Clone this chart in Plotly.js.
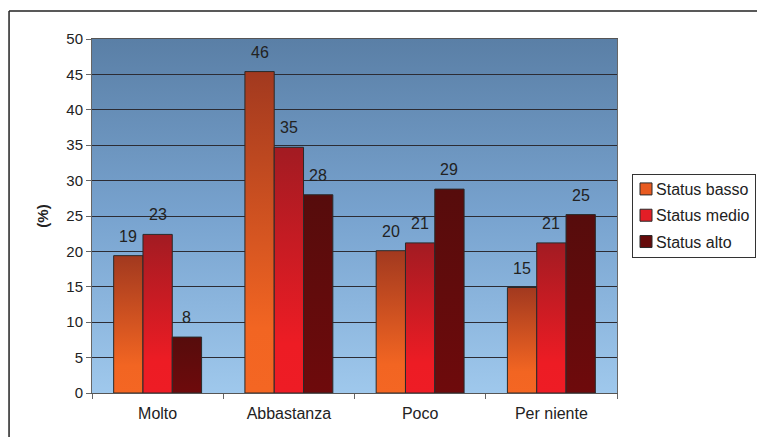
<!DOCTYPE html>
<html>
<head>
<meta charset="utf-8">
<script src="https://cdn.plot.ly/plotly-3.0.1.min.js"></script>
<style>
  html, body { margin: 0; padding: 0; background: #fff; }
  #chart { width: 757px; height: 437px; }
</style>
</head>
<body>
<div id="chart"></div>
<script>
// ---- data ----
const categories = ["Molto", "Abbastanza", "Poco", "Per niente"];
const seriesNames = ["Status basso", "Status medio", "Status alto"];
const statusBasso = [19.4, 45.4, 20.1, 14.9];
const statusMedio = [22.4, 34.7, 21.2, 21.2];
const statusAlto = [7.9, 28.0, 28.8, 25.2];
const labelsBasso = ["19", "46", "20", "15"];
const labelsMedio = ["23", "35", "21", "21"];
const labelsAlto = ["8", "28", "29", "25"];
const yTicks = [0, 5, 10, 15, 20, 25, 30, 35, 40, 45, 50];

// ---- styles ----
const legendColors = ["#E85A20", "#E31E26", "#650B0B"];
const gradStops = [
  [[0, "#A2391F"], [0.8, "#F26522"], [1, "#F46623"]],
  [[0, "#A21B22"], [0.8, "#ED1C24"], [1, "#EE1C25"]],
  [[0, "#560C0C"], [1, "#6E0A0C"]]
];
const FONT = "Liberation Sans, Arial, sans-serif";
const TXT = "#222";

const values = [statusBasso, statusMedio, statusAlto];
const labels = [labelsBasso, labelsMedio, labelsAlto];

const traces = values.map((v, i) => ({
  type: "bar",
  name: seriesNames[i],
  x: categories,
  y: v,
  marker: { color: legendColors[i], line: { color: "#2a2a2a", width: 1 } },
  hoverinfo: "skip"
}));

// data labels as annotations above each bar
const barPx = 131.25 * 0.67 / 3;
const annotations = [];
values.forEach((v, i) => {
  v.forEach((val, j) => {
    annotations.push({
      x: categories[j], y: val, xref: "x", yref: "y",
      text: labels[i][j], showarrow: false,
      xanchor: "center", yanchor: "bottom",
      xshift: (i - 1) * barPx, yshift: 9,
      font: { family: FONT, size: 16, color: TXT }
    });
  });
});

const layout = {
  width: 757, height: 437,
  margin: { l: 92, r: 140, t: 39, b: 44, pad: 0, autoexpand: false },
  paper_bgcolor: "#ffffff",
  plot_bgcolor: "#7ea6cc",
  barmode: "group",
  bargap: 0.33,
  bargroupgap: 0,
  font: { family: FONT, size: 15, color: TXT },
  xaxis: {
    type: "category",
    showgrid: false,
    showline: true, linecolor: "#555", linewidth: 1, mirror: true,
    ticks: "outside", tickson: "boundaries", ticklen: 5, tickcolor: "#666",
    ticklabelstandoff: 6,
    tickfont: { family: FONT, size: 16, color: TXT },
    fixedrange: true
  },
  yaxis: {
    range: [0, 50],
    tickvals: yTicks,
    ticktext: yTicks.map(String),
    showgrid: true, gridcolor: "#2c2c34", gridwidth: 1,
    showline: true, linecolor: "#666", linewidth: 1, mirror: true,
    zeroline: false,
    ticks: "outside", ticklen: 5, tickcolor: "#666",
    tickfont: { family: FONT, size: 15, color: TXT },
    title: { text: "<b>(%)</b>", font: { family: FONT, size: 15, color: TXT }, standoff: 14 },
    fixedrange: true
  },
  legend: {
    x: 1.0286, y: 0.62, xanchor: "left", yanchor: "top",
    bgcolor: "#ffffff", bordercolor: "#333", borderwidth: 1,
    font: { family: FONT, size: 16, color: TXT },
    itemwidth: 30
  },
  showlegend: true,
  annotations: annotations,
  shapes: [
    { type: "line", xref: "paper", yref: "paper", x0: -0.158, x1: 1.6, y0: 1.079, y1: 1.079,
      line: { color: "#222", width: 1.5 } },
    { type: "line", xref: "paper", yref: "paper", x0: -0.158, x1: -0.158, y0: 1.079, y1: -0.3,
      line: { color: "#222", width: 1.5 } }
  ]
};

function applyGradients(gd) {
  const NS = "http://www.w3.org/2000/svg";
  const svg = gd.querySelector("svg.main-svg");
  let defs = svg.querySelector("defs");
  if (!defs) { defs = document.createElementNS(NS, "defs"); svg.insertBefore(defs, svg.firstChild); }
  function mk(id, stops) {
    const lg = document.createElementNS(NS, "linearGradient");
    lg.setAttribute("id", id);
    lg.setAttribute("x1", "0"); lg.setAttribute("y1", "0");
    lg.setAttribute("x2", "0"); lg.setAttribute("y2", "1");
    stops.forEach(([o, c]) => {
      const s = document.createElementNS(NS, "stop");
      s.setAttribute("offset", o);
      s.setAttribute("stop-color", c);
      lg.appendChild(s);
    });
    defs.appendChild(lg);
  }
  mk("bgGrad", [[0, "#5A7FA6"], [0.5, "#78A3CF"], [1, "#9FC8EC"]]);
  gradStops.forEach((st, i) => mk("barGrad" + i, st));
  const bg = gd.querySelector(".bglayer .bg");
  if (bg) bg.style.fill = "url(#bgGrad)";
  const groups = gd.querySelectorAll(".barlayer .trace.bars");
  groups.forEach((g, i) => {
    g.querySelectorAll(".point path").forEach(p => { p.style.fill = "url(#barGrad" + i + ")"; });
  });

  // compact the legend: symbol closer to the border, text closer to symbol
  const leg = gd.querySelector(".legend");
  if (leg) {
    leg.querySelectorAll(".traces .legendsymbols").forEach(s => {
      s.setAttribute("transform", "translate(-7,0)");
    });
    leg.querySelectorAll(".traces .legendtext").forEach(t => {
      t.setAttribute("x", "23");
      t.querySelectorAll("tspan").forEach(ts => { if (ts.getAttribute("x")) ts.setAttribute("x", "23"); });
    });
    // spread items slightly apart
    leg.querySelectorAll(".traces").forEach((tr, k) => {
      const m = /translate\(\s*([-\d.]+)[ ,]+([-\d.]+)\s*\)/.exec(tr.getAttribute("transform") || "");
      if (m) {
        const nx = parseFloat(m[1]);
        const ny = parseFloat(m[2]) + (k - 1) * 2.5;
        tr.setAttribute("transform", "translate(" + nx + "," + ny + ")");
      }
    });
    const lbg = leg.querySelector("rect.bg");
    if (lbg) lbg.setAttribute("width", "123");
  }
}

Plotly.newPlot("chart", traces, layout, { staticPlot: true, displayModeBar: false })
  .then(applyGradients);
</script>
</body>
</html>
